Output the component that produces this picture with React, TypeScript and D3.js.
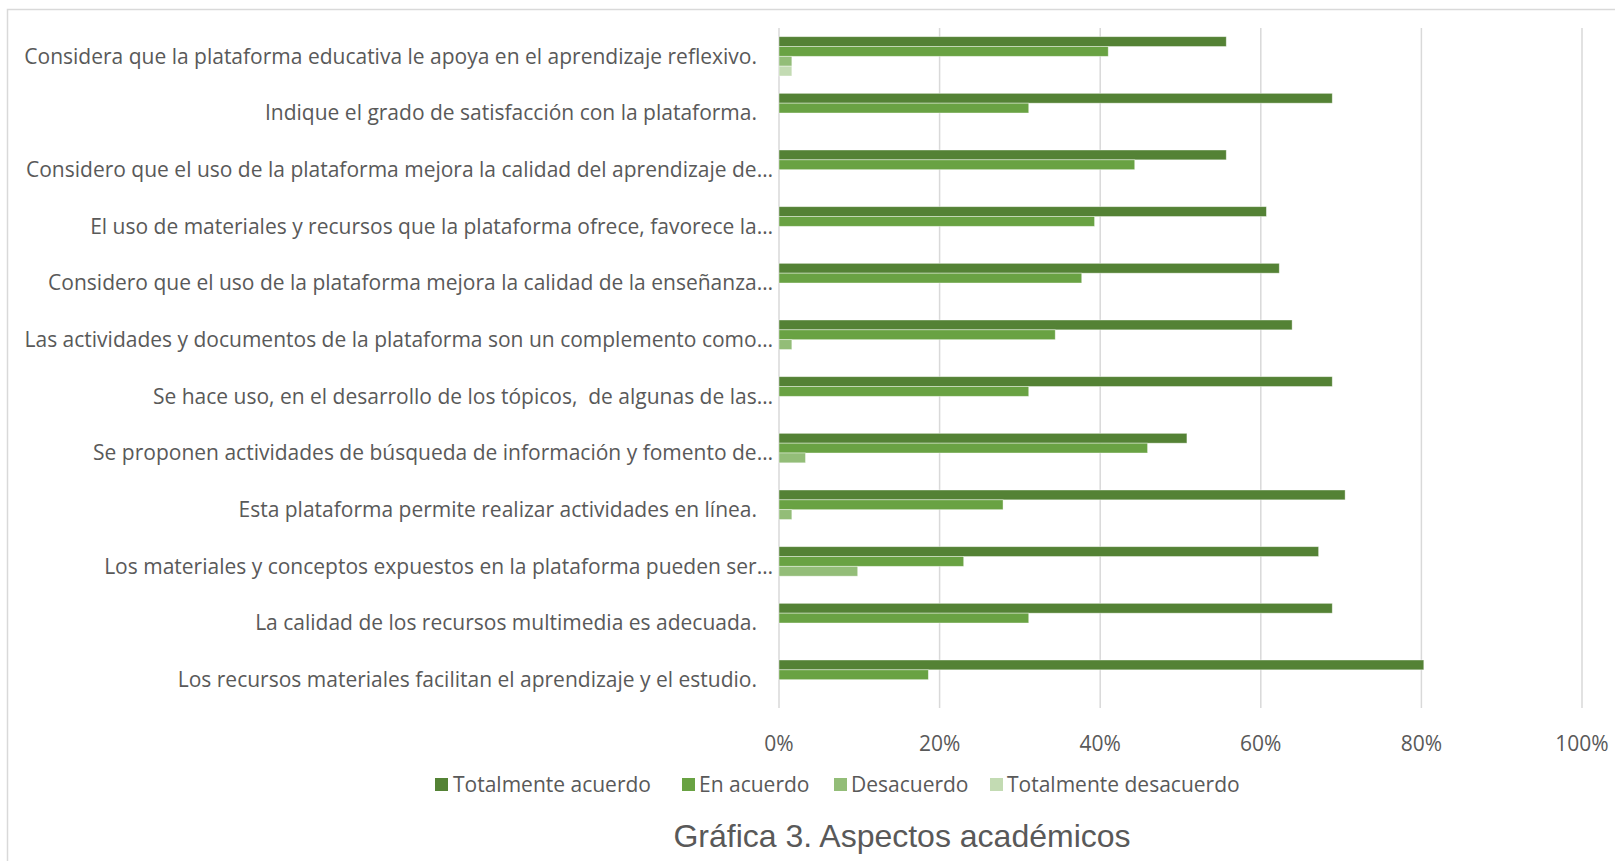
import React from "react";
import * as d3 from "d3";

const categories = [
  "Considera que la plataforma educativa le apoya en el aprendizaje reflexivo.",
  "Indique el grado de satisfacción con la plataforma.",
  "Considero que el uso de la plataforma mejora la calidad del aprendizaje de…",
  "El uso de materiales y recursos que la plataforma ofrece, favorece la…",
  "Considero que el uso de la plataforma mejora la calidad de la enseñanza…",
  "Las actividades y documentos de la plataforma son un complemento como…",
  "Se hace uso, en el desarrollo de los tópicos,  de algunas de las…",
  "Se proponen actividades de búsqueda de información y fomento de…",
  "Esta plataforma permite realizar actividades en línea.",
  "Los materiales y conceptos expuestos en la plataforma pueden ser…",
  "La calidad de los recursos multimedia es adecuada.",
  "Los recursos materiales facilitan el aprendizaje y el estudio.",
];

const seriesNames = ["Totalmente acuerdo", "En acuerdo", "Desacuerdo", "Totalmente desacuerdo"];

const totalmenteAcuerdo = [55.7, 68.9, 55.7, 60.7, 62.3, 63.9, 68.9, 50.8, 70.5, 67.2, 68.9, 80.3];
const enAcuerdo = [41.0, 31.1, 44.3, 39.3, 37.7, 34.4, 31.1, 45.9, 27.9, 23.0, 31.1, 18.6];
const desacuerdo = [1.6, 0, 0, 0, 0, 1.6, 0, 3.3, 1.6, 9.8, 0, 0];
const totalmenteDesacuerdo = [1.6, 0, 0, 0, 0, 0, 0, 0, 0, 0, 0, 0];

const tickValues = [0, 20, 40, 60, 80, 100];
const tickLabels = ["0%", "20%", "40%", "60%", "80%", "100%"];

const colors = ["#548235", "#69A243", "#93BD78", "#C3DBB3"];

const title = "Gráfica 3. Aspectos académicos";

export default function App() {
  const W = 1615;
  const H = 861;
  const seriesValues = [totalmenteAcuerdo, enAcuerdo, desacuerdo, totalmenteDesacuerdo];

  const x = d3.scaleLinear().domain([0, 100]).range([779, 1582]);
  const y = d3
    .scaleBand<string>()
    .domain(categories)
    .range([28, 708])
    .paddingInner(0.306)
    .paddingOuter(0.153);
  const ys = d3
    .scaleBand<number>()
    .domain(d3.range(seriesNames.length))
    .range([0, y.bandwidth()]);

  const labelFont = "'Open Sans', Lato, sans-serif";
  const textColor = "#595959";
  const fs = 21;

  const legendItems = [
    { sq: 435, tx: 453 },
    { sq: 682, tx: 699 },
    { sq: 834, tx: 851 },
    { sq: 990, tx: 1007 },
  ];

  return (
    <svg
      width={W}
      height={H}
      style={{ position: "absolute", left: 0, top: 0, background: "#fff" }}
    >
      <rect x={0} y={0} width={W} height={H} fill="#fff" />
      <path d={`M7.5,${H + 2} V9.5 H${W + 2}`} fill="none" stroke="#d9d9d9" strokeWidth={1.5} />

      {tickValues.map((t) => (
        <line
          key={"g" + t}
          x1={x(t)}
          x2={x(t)}
          y1={28}
          y2={708}
          stroke="#d9d9d9"
          strokeWidth={1.5}
        />
      ))}

      {categories.map((c, i) =>
        seriesValues.map((vals, s) =>
          vals[i] > 0 ? (
            <rect
              key={c + s}
              x={x(0)}
              y={(y(c) as number) + (ys(s) as number)}
              width={x(vals[i]) - x(0)}
              height={ys.bandwidth()}
              fill={colors[s]}
              stroke="#ffffff"
              strokeOpacity={0.5}
              strokeWidth={0.8}
            />
          ) : null
        )
      )}

      {categories.map((c) => (
        <text
          key={"l" + c}
          x={c.endsWith("…") ? 773 : 757}
          y={(y(c) as number) + y.bandwidth() / 2}
          dy="0.35em"
          textAnchor="end"
          fontFamily={labelFont}
          fontSize={fs}
          fill={textColor}
          style={{ whiteSpace: "pre" }}
        >
          {c}
        </text>
      ))}

      {tickValues.map((t, i) => (
        <text
          key={"t" + t}
          x={x(t)}
          y={744}
          dy="0.35em"
          textAnchor="middle"
          fontFamily={labelFont}
          fontSize={fs}
          fill={textColor}
        >
          {tickLabels[i]}
        </text>
      ))}

      {seriesNames.map((n, i) => (
        <g key={"lg" + n}>
          <rect x={legendItems[i].sq} y={778} width={13} height={13} fill={colors[i]} />
          <text
            x={legendItems[i].tx}
            y={785}
            dy="0.35em"
            fontFamily={labelFont}
            fontSize={fs}
            fill={textColor}
          >
            {n}
          </text>
        </g>
      ))}

      <text
        x={902}
        y={836}
        dy="0.35em"
        textAnchor="middle"
        fontFamily="'Liberation Sans', Arial, sans-serif"
        fontSize={32}
        fill={textColor}
      >
        {title}
      </text>
    </svg>
  );
}
